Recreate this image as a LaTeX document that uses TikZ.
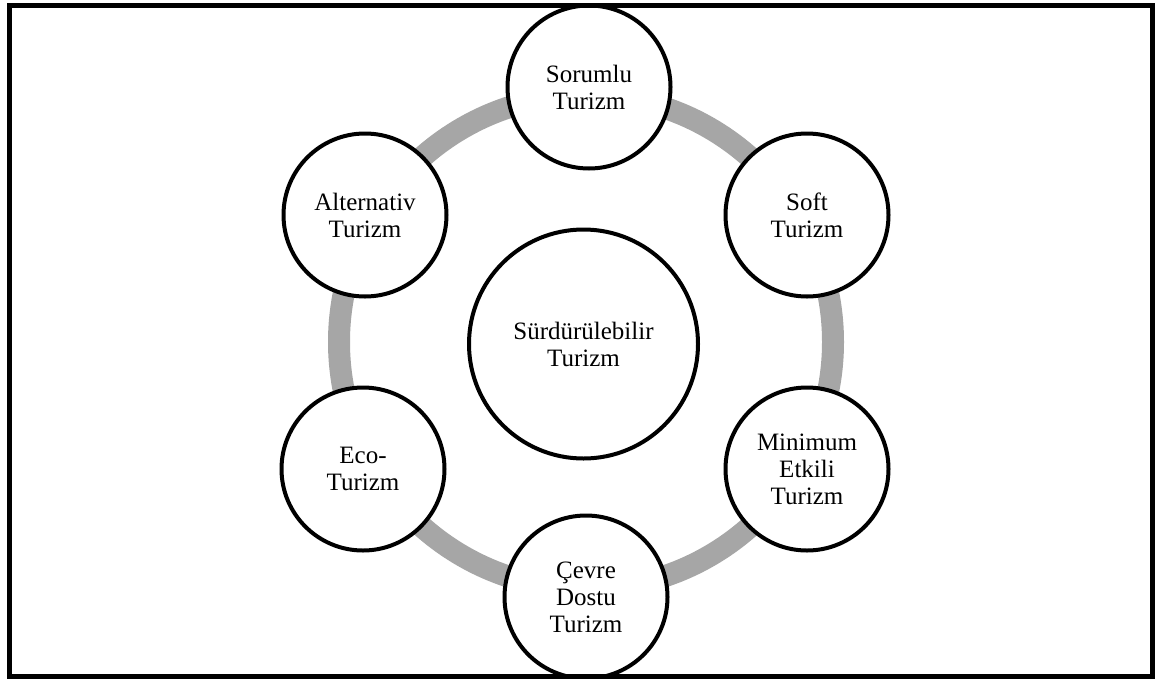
\documentclass[tikz,border=0pt]{standalone}
\usepackage{fontspec}
\setmainfont{Liberation Serif}
\begin{document}
\begin{tikzpicture}[x=1pt,y=-1pt,
  ringnode/.style={circle,draw=black,line width=4pt,fill=white,minimum size=163pt,inner sep=0pt,
    align=center,font=\fontsize{25}{27}\selectfont},
  hubnode/.style={ringnode,minimum size=229pt},
  ringline/.style={draw=black!35,line width=22pt}]
\useasboundingbox (0,0) rectangle (1157,678);
\coordinate (c) at (586,342);
\draw[ringline] (c) circle[radius=247];
\node[hubnode] (hub) at (583.5,344) {Sürdürülebilir\\Turizm};
\node[ringnode] (sor) at (589,87) {Sorumlu\\Turizm};
\node[ringnode] (soft) at (807,215) {Soft\\Turizm};
\node[ringnode] (min) at (807,469) {Minimum\\Etkili\\Turizm};
\node[ringnode] (cev) at (586,597) {Çevre\\Dostu\\Turizm};
\node[ringnode] (eco) at (363,469) {Eco-\\Turizm};
\node[ringnode] (alt) at (365,215) {Alternativ\\Turizm};
\draw[line width=5pt] (9.5,5.5) rectangle (1152,676);
\end{tikzpicture}
\end{document}
